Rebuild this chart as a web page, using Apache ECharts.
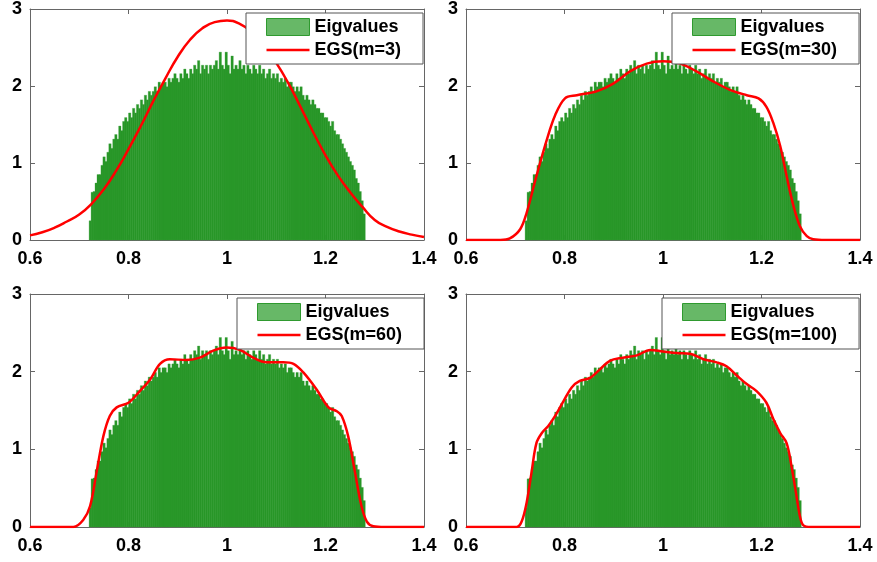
<!DOCTYPE html>
<html>
<head>
<meta charset="utf-8">
<script src="https://cdn.jsdelivr.net/npm/echarts@6/dist/echarts.min.js"></script>
<style>
  html, body { margin: 0; padding: 0; background: #fff; }
  #main { width: 877px; height: 562px; }
</style>
</head>
<body>
<div id="main"></div>
<script>
// histogram of eigenvalues, same in all four panels
const histStart = 0.72
const histBinWidth = 0.004
const histHeights = [
  0.25, 0.62, 0.63, 0.74, 0.85, 0.85, 0.97, 1.08, 1.02, 1.14,
  1.25, 1.19, 1.31, 1.37, 1.31, 1.48, 1.42, 1.54, 1.59, 1.54,
  1.65, 1.59, 1.71, 1.65, 1.76, 1.71, 1.82, 1.76, 1.88, 1.82,
  1.93, 1.88, 1.93, 1.99, 1.93, 2.05, 1.99, 2.05, 2.05, 1.99,
  2.10, 2.05, 2.10, 2.16, 2.10, 2.05, 2.16, 2.10, 2.22, 2.16,
  2.10, 2.22, 2.16, 2.27, 2.22, 2.33, 2.16, 2.27, 2.22, 2.27,
  2.16, 2.27, 2.22, 2.27, 2.33, 2.22, 2.44, 2.27, 2.22, 2.44,
  2.27, 2.16, 2.39, 2.22, 2.27, 2.22, 2.33, 2.22, 2.27, 2.16,
  2.27, 2.22, 2.16, 2.27, 2.22, 2.16, 2.27, 2.16, 2.22, 2.10,
  2.16, 2.22, 2.10, 2.16, 2.10, 2.16, 2.05, 2.10, 2.05, 2.10,
  1.99, 2.05, 2.05, 1.99, 1.93, 1.99, 1.93, 1.99, 1.88, 1.82,
  1.88, 1.82, 1.76, 1.82, 1.76, 1.71, 1.71, 1.65, 1.65, 1.59,
  1.59, 1.54, 1.48, 1.54, 1.42, 1.37, 1.37, 1.31, 1.25, 1.19,
  1.14, 1.08, 1.02, 0.97, 0.91, 0.80, 0.74, 0.63, 0.51, 0.34
]

// EGS curves
const egs3X = [0.6, 0.625, 0.65, 0.675, 0.7, 0.725, 0.75, 0.775, 0.8, 0.825, 0.85, 0.875, 0.9, 0.925, 0.95, 0.975, 1.0, 1.025, 1.05, 1.075, 1.1, 1.125, 1.15, 1.175, 1.2, 1.225, 1.25, 1.275, 1.3, 1.325, 1.35, 1.375, 1.4]
const egs3Y = [0.06, 0.10, 0.16, 0.24, 0.33, 0.47, 0.66, 0.90, 1.18, 1.48, 1.80, 2.10, 2.38, 2.60, 2.75, 2.83, 2.85, 2.81, 2.70, 2.52, 2.30, 2.03, 1.72, 1.40, 1.10, 0.84, 0.62, 0.43, 0.26, 0.17, 0.11, 0.07, 0.04]

const egs30X = [0.6, 0.67, 0.689, 0.71, 0.723, 0.743, 0.764, 0.781, 0.801, 0.825, 0.865, 0.899, 0.933, 0.967, 1.0, 1.035, 1.068, 1.102, 1.136, 1.17, 1.194, 1.21, 1.224, 1.238, 1.251, 1.265, 1.278, 1.292, 1.305, 1.33, 1.4]
const egs30Y = [0, 0, 0.02, 0.14, 0.35, 0.83, 1.30, 1.62, 1.84, 1.88, 1.93, 2.03, 2.19, 2.29, 2.32, 2.29, 2.19, 2.06, 1.95, 1.88, 1.84, 1.73, 1.52, 1.22, 0.83, 0.44, 0.18, 0.05, 0.01, 0, 0]

const egs60X = [0.6, 0.688, 0.708, 0.722, 0.735, 0.749, 0.762, 0.776, 0.8, 0.823, 0.844, 0.864, 0.884, 0.918, 0.945, 0.972, 0.999, 1.026, 1.053, 1.08, 1.114, 1.135, 1.155, 1.182, 1.206, 1.223, 1.233, 1.246, 1.26, 1.273, 1.284, 1.297, 1.32, 1.4]
const egs60Y = [0, 0, 0.09, 0.27, 0.70, 1.17, 1.43, 1.54, 1.60, 1.75, 1.90, 2.10, 2.16, 2.15, 2.18, 2.27, 2.31, 2.28, 2.18, 2.12, 2.12, 2.10, 1.99, 1.77, 1.54, 1.49, 1.43, 1.17, 0.70, 0.27, 0.07, 0.01, 0, 0]

const egs100X = [0.6, 0.703, 0.713, 0.723, 0.733, 0.743, 0.754, 0.767, 0.781, 0.798, 0.815, 0.831, 0.852, 0.872, 0.892, 0.919, 0.947, 0.974, 1.0, 1.028, 1.055, 1.082, 1.109, 1.129, 1.15, 1.17, 1.19, 1.21, 1.224, 1.238, 1.251, 1.261, 1.271, 1.278, 1.285, 1.3, 1.4]
const egs100Y = [0, 0, 0.07, 0.31, 0.70, 1.08, 1.21, 1.30, 1.43, 1.62, 1.80, 1.88, 1.92, 2.03, 2.14, 2.18, 2.21, 2.28, 2.26, 2.24, 2.23, 2.16, 2.12, 2.07, 1.95, 1.84, 1.75, 1.60, 1.39, 1.21, 1.08, 0.78, 0.40, 0.14, 0.02, 0, 0]

const curveNames = ['EGS(m=3)', 'EGS(m=30)', 'EGS(m=60)', 'EGS(m=100)']
const curves = [[egs3X, egs3Y], [egs30X, egs30Y], [egs60X, egs60Y], [egs100X, egs100Y]]

const xTicks = {min: 0.6, max: 1.4, interval: 0.2}
const yTicks = {min: 0, max: 3, interval: 1}

const histData = histHeights.map((h, i) => [
  histStart + i * histBinWidth,
  histStart + (i + 1) * histBinWidth,
  h
])

const panels = [
  {left: 30, top: 8, height: 232, legendLeft: 246, legendTop: 13},
  {left: 466, top: 8, height: 232, legendLeft: 672, legendTop: 13},
  {left: 30, top: 294, height: 233, legendLeft: 237, legendTop: 298},
  {left: 466, top: 294, height: 233, legendLeft: 662, legendTop: 298}
]

const axisColor = '#666'
const labelFont = {
  color: '#000',
  fontSize: 18,
  fontWeight: 'bold',
  fontFamily: 'Liberation Sans, Arial, sans-serif'
}

let grid = [], xAxis = [], yAxis = [], series = [], legend = []

panels.forEach((p, k) => {
  grid.push({left: p.left, top: p.top, width: 394, height: p.height})

  // bottom / left axes carry the labels; top / right only draw the box and ticks
  xAxis.push({
    type: 'value', gridIndex: k, position: 'bottom', ...xTicks,
    axisLine: {show: true, onZero: false, lineStyle: {color: axisColor, width: 1}},
    axisTick: {show: true, inside: true, length: 5, lineStyle: {color: axisColor}},
    axisLabel: {show: true, margin: 10, formatter: v => String(+v.toFixed(1)), ...labelFont},
    splitLine: {show: false}
  })
  xAxis.push({
    type: 'value', gridIndex: k, position: 'top', ...xTicks,
    axisLine: {show: true, onZero: false, lineStyle: {color: axisColor, width: 1}},
    axisTick: {show: true, inside: true, length: 5, lineStyle: {color: axisColor}},
    axisLabel: {show: false},
    splitLine: {show: false}
  })
  yAxis.push({
    type: 'value', gridIndex: k, position: 'left', ...yTicks,
    axisLine: {show: true, onZero: false, lineStyle: {color: axisColor, width: 1}},
    axisTick: {show: true, inside: true, length: 5, lineStyle: {color: axisColor}},
    axisLabel: {show: true, margin: 8, ...labelFont},
    splitLine: {show: false}
  })
  yAxis.push({
    type: 'value', gridIndex: k, position: 'right', ...yTicks,
    axisLine: {show: true, onZero: false, lineStyle: {color: axisColor, width: 1}},
    axisTick: {show: true, inside: true, length: 5, lineStyle: {color: axisColor}},
    axisLabel: {show: false},
    splitLine: {show: false}
  })

  series.push({
    name: 'Eigvalues',
    type: 'custom',
    xAxisIndex: 2 * k,
    yAxisIndex: 2 * k,
    data: histData,
    encode: {x: [0, 1], y: 2},
    itemStyle: {color: '#67b867', borderColor: '#2f9a2f'},
    renderItem: (params, api) => {
      const a = api.coord([api.value(0), api.value(2)])
      const b = api.coord([api.value(1), 0])
      return {
        type: 'rect',
        shape: {x: a[0], y: a[1], width: b[0] - a[0] + 0.4, height: b[1] - a[1]},
        style: {fill: '#279627', stroke: '#38a038', lineWidth: 0.3}
      }
    },
    z: 2
  })

  const [cx, cy] = curves[k]
  series.push({
    name: curveNames[k],
    type: 'line',
    xAxisIndex: 2 * k,
    yAxisIndex: 2 * k,
    data: cx.map((x, i) => [x, cy[i]]),
    smooth: k === 0 ? 0.5 : 0.35,
    symbol: 'none',
    lineStyle: {color: '#ff0000', width: 2.5},
    itemStyle: {color: '#ff0000'},
    z: 3
  })

  legend.push({
    left: p.legendLeft,
    top: p.legendTop,
    orient: 'vertical',
    data: [
      {name: 'Eigvalues', icon: 'rect', itemStyle: {color: '#67b867', borderColor: '#2f9a2f', borderWidth: 1}},
      {name: curveNames[k], icon: 'path://M0,0 H43 V2.5 H0 Z', itemStyle: {color: '#ff0000', borderWidth: 0}}
    ],
    itemWidth: 43,
    itemHeight: 17,
    itemGap: 5,
    padding: [5, 22, 5, 20],
    backgroundColor: '#fff',
    borderColor: '#555',
    borderWidth: 1,
    borderRadius: 0,
    selectedMode: false,
    textStyle: {color: '#000', fontSize: 18, fontWeight: 'bold', fontFamily: 'Liberation Sans, Arial, sans-serif'}
  })
})

let myChart = echarts.init(document.getElementById('main'), null, {renderer: 'canvas'})
myChart.setOption({
  animation: false,
  backgroundColor: '#fff',
  grid: grid,
  xAxis: xAxis,
  yAxis: yAxis,
  legend: legend,
  series: series
})
</script>
</body>
</html>
